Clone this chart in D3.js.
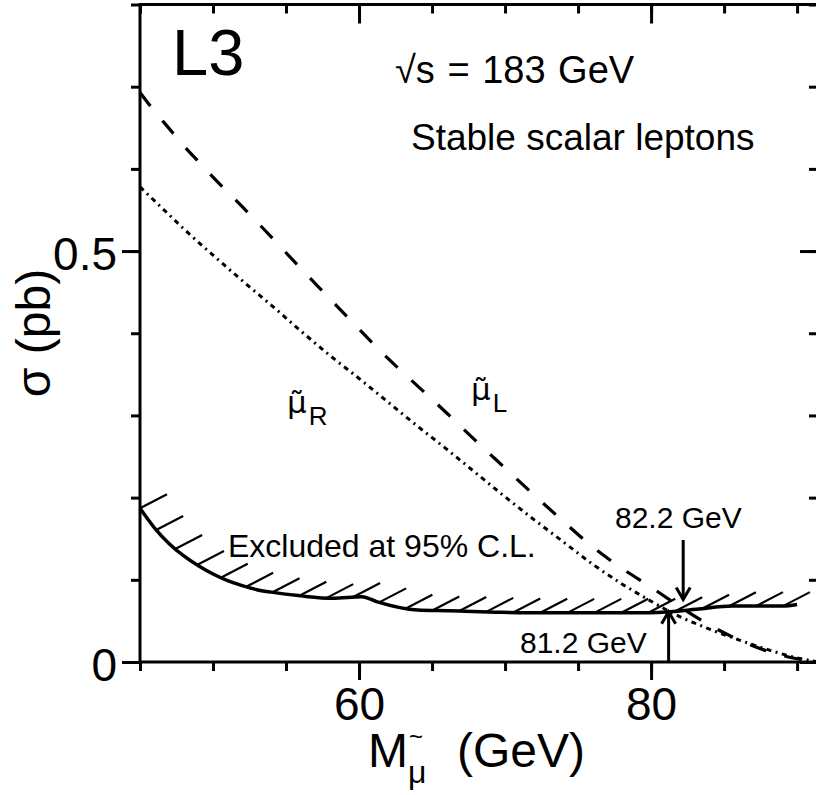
<!DOCTYPE html>
<html>
<head>
<meta charset="utf-8">
<script src="https://cdn.jsdelivr.net/npm/d3@7"></script>
<style>
  body { margin: 0; background: #fff; }
  svg { display: block; }
  text { font-family: "Liberation Sans", Arial, Helvetica, sans-serif; fill: #000; }
</style>
</head>
<body>
<svg id="chart" width="816" height="795"></svg>
<script>
// Smuon pair cross-section at sqrt(s) = 183 GeV, left- and right-handed
const massL  = [45, 46, 47, 48, 49, 50, 52, 54, 56, 58, 60, 62, 64, 66, 68, 70, 72, 74, 76, 78, 80, 82, 84, 86, 88, 90, 91.5];
const sigmaL = [0.693, 0.670, 0.649, 0.628, 0.609, 0.590, 0.554, 0.517, 0.479, 0.442, 0.405, 0.369, 0.336, 0.303, 0.269, 0.236, 0.203, 0.171, 0.140, 0.114, 0.091, 0.067, 0.045, 0.027, 0.013, 0.004, 0.000];

const massR  = [45, 46, 47, 48, 50, 52, 54, 56, 58, 60, 62, 64, 66, 68, 70, 72, 74, 76, 78, 80, 81.2, 82, 84, 86, 88, 90, 91.5];
const sigmaR = [0.578, 0.561, 0.544, 0.527, 0.495, 0.464, 0.434, 0.403, 0.373, 0.345, 0.316, 0.287, 0.259, 0.230, 0.201, 0.173, 0.146, 0.119, 0.095, 0.074, 0.062, 0.055, 0.040, 0.027, 0.015, 0.005, 0.000];

// 95% C.L. upper limit on the cross-section
const massLimit  = [45, 46, 47, 48, 49, 50, 51, 52, 53, 54, 56, 58.2, 60.2, 61.2, 64.0, 66.2, 69.7, 73.1, 76.5, 79.9, 81.3, 83.1, 85.6, 89.0, 90.0];
const sigmaLimit = [0.187, 0.163, 0.144, 0.129, 0.117, 0.107, 0.099, 0.093, 0.088, 0.085, 0.0805, 0.0775, 0.0795, 0.0735, 0.0633, 0.0624, 0.0605, 0.0598, 0.0598, 0.0600, 0.0612, 0.0641, 0.068, 0.068, 0.070];

const xMajorTicks = [60, 80];
const xMinorTicks = [45, 50, 55, 60, 65, 70, 75, 80, 85, 90];
const yMajorTicks = [0, 0.5];
const yMinorTicks = [0, 0.1, 0.2, 0.3, 0.4, 0.5, 0.6, 0.7, 0.8];
const yTickLabels = ["0", "0.5"];

const limitL = 82.2;   // mass limit for the left-handed smuon
const limitR = 81.2;   // mass limit for the right-handed smuon

const FONT = '"Liberation Sans", Arial, Helvetica, sans-serif';
const svg = d3.select("#chart");

const plot = { left: 140, right: 819, top: 4.5, bottom: 662 };
const x = d3.scaleLinear().domain([45, 91.5]).range([plot.left, plot.right]);
const y = d3.scaleLinear().domain([0, 0.8]).range([plot.bottom, plot.top]);

function styleAxis(g) {
  g.attr("font-family", FONT);
  g.select(".domain").remove();
  g.selectAll(".tick line").attr("stroke", "#000").attr("stroke-width", 3);
}

// bottom axis: minor and major ticks outward
svg.append("g").attr("transform", `translate(0,${plot.bottom})`)
  .call(d3.axisBottom(x).tickValues(xMinorTicks).tickSize(9).tickSizeOuter(0).tickFormat(""))
  .call(styleAxis);
svg.append("g").attr("transform", `translate(0,${plot.bottom})`)
  .call(d3.axisBottom(x).tickValues(xMajorTicks).tickSize(18).tickPadding(7).tickSizeOuter(0).tickFormat(d3.format("d")))
  .call(styleAxis)
  .call(g => g.selectAll("text").attr("font-size", 46).attr("fill", "#000"));

// top axis: ticks inward
svg.append("g").attr("transform", `translate(0,${plot.top})`)
  .call(d3.axisTop(x).tickValues(xMinorTicks).tickSize(-9).tickSizeOuter(0).tickFormat(""))
  .call(styleAxis);
svg.append("g").attr("transform", `translate(0,${plot.top})`)
  .call(d3.axisTop(x).tickValues(xMajorTicks).tickSize(-19).tickSizeOuter(0).tickFormat(""))
  .call(styleAxis);

// left axis: ticks outward
svg.append("g").attr("transform", `translate(${plot.left},0)`)
  .call(d3.axisLeft(y).tickValues(yMinorTicks).tickSize(9).tickSizeOuter(0).tickFormat(""))
  .call(styleAxis);
svg.append("g").attr("transform", `translate(${plot.left},0)`)
  .call(d3.axisLeft(y).tickValues(yMajorTicks).tickSize(18).tickPadding(5).tickSizeOuter(0)
    .tickFormat((d, i) => yTickLabels[i]))
  .call(styleAxis)
  .call(g => g.selectAll("text").attr("font-size", 46).attr("dy", "0.41em").attr("fill", "#000"));

// right axis: ticks inward
svg.append("g").attr("transform", `translate(${plot.right},0)`)
  .call(d3.axisRight(y).tickValues(yMinorTicks).tickSize(-10).tickSizeOuter(0).tickFormat(""))
  .call(styleAxis);
svg.append("g").attr("transform", `translate(${plot.right},0)`)
  .call(d3.axisRight(y).tickValues(yMajorTicks).tickSize(-19).tickSizeOuter(0).tickFormat(""))
  .call(styleAxis);

// frame
svg.append("rect")
  .attr("x", plot.left).attr("y", plot.top)
  .attr("width", plot.right - plot.left).attr("height", plot.bottom - plot.top)
  .attr("fill", "none").attr("stroke", "#000").attr("stroke-width", 3);

const line = d3.line().x(d => x(d[0])).y(d => y(d[1])).curve(d3.curveMonotoneX);

// cross-section curves
svg.append("path")
  .datum(d3.zip(massL, sigmaL))
  .attr("d", line)
  .attr("fill", "none").attr("stroke", "#000").attr("stroke-width", 3.2)
  .attr("stroke-dasharray", "17,19");

svg.append("path")
  .datum(d3.zip(massR, sigmaR))
  .attr("d", line)
  .attr("fill", "none").attr("stroke", "#000").attr("stroke-width", 3)
  .attr("stroke-dasharray", "5,4.5,2,4.5");

// exclusion limit with hatching on the excluded side
const limitPath = svg.append("path")
  .datum(d3.zip(massLimit, sigmaLimit))
  .attr("d", line)
  .attr("fill", "none").attr("stroke", "#000").attr("stroke-width", 3.5)
  .attr("stroke-linejoin", "round");

const node = limitPath.node();
const total = node.getTotalLength();
const hatchStep = 27, hatchDx = 27, hatchDy = -14;
const hatchStarts = d3.range(0, total + 1, hatchStep).map(l => node.getPointAtLength(l));
svg.append("g").selectAll("line")
  .data(hatchStarts)
  .join("line")
  .attr("x1", p => p.x).attr("y1", p => p.y)
  .attr("x2", p => p.x + hatchDx).attr("y2", p => p.y + hatchDy)
  .attr("stroke", "#000").attr("stroke-width", 2.2);

// limit value on the exclusion curve at a given mass
const limitAt = m => d3.scaleLinear().domain(massLimit).range(sigmaLimit)(m);

function arrow(xp, yFrom, yTip) {
  const dir = Math.sign(yFrom - yTip);   // +1: arrow points up
  const g = svg.append("g").attr("stroke", "#000").attr("fill", "none")
    .attr("stroke-width", 3).attr("stroke-linejoin", "miter");
  g.append("line").attr("x1", xp).attr("x2", xp).attr("y1", yFrom).attr("y2", yTip);
  g.append("polyline")
    .attr("points", `${xp - 7},${yTip + dir * 12} ${xp},${yTip} ${xp + 7},${yTip + dir * 12}`);
}

// 82.2 GeV: arrow from above, down towards the crossing
arrow(x(limitL), 540, y(limitAt(limitL)) - 11);
// 81.2 GeV: arrow from the axis up to the crossing
arrow(x(limitR), plot.bottom, y(limitAt(limitR)));

function label(txt, xp, yp, size, anchor) {
  return svg.append("text").attr("x", xp).attr("y", yp)
    .attr("font-size", size).attr("text-anchor", anchor || "start").text(txt);
}

label("82.2 GeV", 615, 528, 30);
label("81.2 GeV", 520, 653, 30);
label("Excluded at 95% C.L.", 228, 557, 32);

label("L3", 172, 75, 65);
label("\u221As = 183 GeV", 395, 83, 38).attr("word-spacing", 2);
label("Stable scalar leptons", 411, 150, 37);

// smuon label: mu with a combining tilde, then a subscript
function smuon(xm, ym, sub) {
  const t = svg.append("text").attr("x", xm).attr("y", ym).attr("font-size", 31);
  t.append("tspan").attr("font-family", '"DejaVu Sans", sans-serif').text("\u03BC\u0303");
  t.append("tspan").attr("dx", 2).attr("dy", 12).attr("font-size", 26).text(sub);
  return t;
}
smuon(287, 413, "R");
smuon(471, 400, "L");

// x-axis title: M with a tilde and mu subscript, then the unit
const xt = svg.append("text").attr("font-size", 48);
xt.append("tspan").attr("x", 368).attr("y", 767).text("M");
xt.append("tspan").attr("x", 409).attr("y", 745).attr("font-size", 24).text("~");
xt.append("tspan").attr("x", 408).attr("y", 783).attr("font-size", 32).text("\u03BC");
xt.append("tspan").attr("x", 457).attr("y", 767).text("(GeV)");

svg.append("text")
  .attr("transform", "translate(50,333) rotate(-90)")
  .attr("text-anchor", "middle")
  .attr("font-size", 48)
  .text("\u03C3 (pb)");
</script>
</body>
</html>
